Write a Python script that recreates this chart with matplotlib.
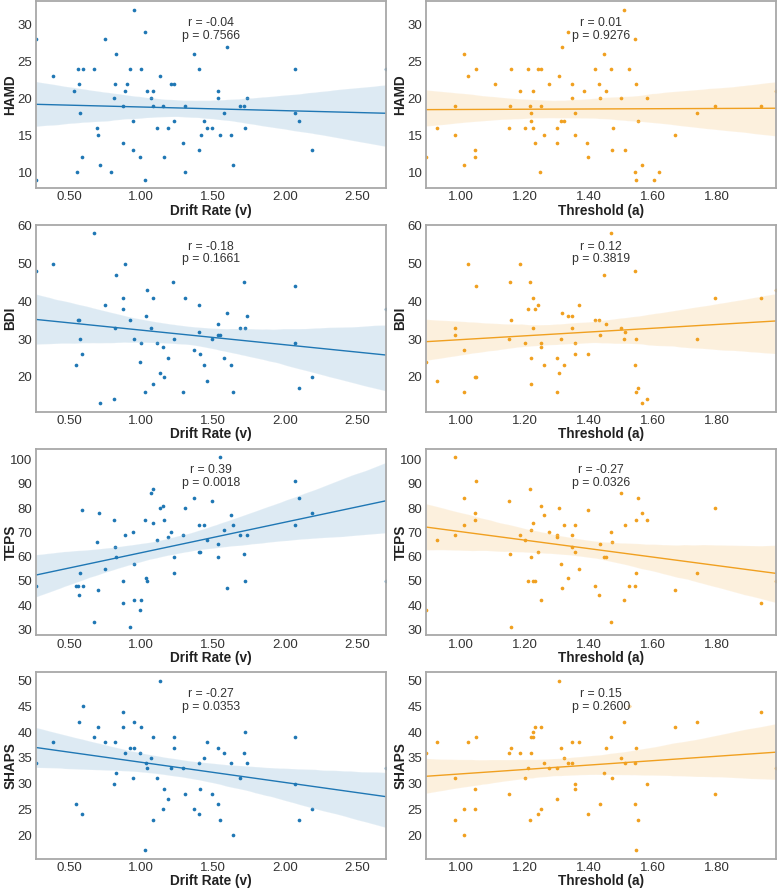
import numpy as np
import matplotlib
matplotlib.use("Agg")
import matplotlib.pyplot as plt
import seaborn as sns

# drift rate (v) vs scales
drift_hamd_x = [0.271, 0.271, 0.391, 0.532, 0.56, 0.572, 0.576, 0.553, 0.593, 0.6,
                0.676, 0.692, 0.701, 0.715, 0.75, 0.792, 0.81, 0.819, 0.829, 0.873,
                0.877, 0.887, 0.905, 0.926, 0.947, 0.947, 0.954, 0.993, 0.998, 1.03,
                1.03, 1.042, 1.072, 1.081, 1.086, 1.111, 1.132, 1.155, 1.16, 1.188,
                1.211, 1.229, 1.227, 1.289, 1.303, 1.308, 1.368, 1.40, 1.405, 1.414,
                1.44, 1.456, 1.493, 1.532, 1.532, 1.546, 1.579, 1.595, 1.623, 1.641,
                1.685, 1.715, 1.722, 1.736, 2.067, 2.067, 2.095, 2.188, 2.70]
drift_hamd_y = [28, 9, 23, 21, 24, 22, 18, 10, 12, 24,
                24, 16, 15, 11, 28, 10, 20, 22, 26, 19,
                14, 21, 22, 24, 17, 13, 32, 12, 24, 29,
                9, 21, 20, 21, 19, 16, 23, 19, 12, 16,
                22, 22, 17, 14, 10, 19, 26, 24, 13, 15,
                17, 16, 16, 21, 20, 15, 18, 27, 15, 11,
                19, 19, 16, 20, 24, 18, 17, 13, 24]

drift_bdi_x = [0.271, 0.391, 0.551, 0.56, 0.569, 0.576, 0.593, 0.676, 0.715, 0.752,
               0.81, 0.819, 0.829, 0.873, 0.877, 0.887, 0.926, 0.954, 0.993, 0.998,
               1.03, 1.032, 1.042, 1.072, 1.081, 1.081, 1.111, 1.132, 1.153, 1.16,
               1.188, 1.225, 1.229, 1.289, 1.308, 1.368, 1.40, 1.405, 1.412, 1.44,
               1.456, 1.493, 1.532, 1.532, 1.546, 1.579, 1.597, 1.623, 1.641, 1.685,
               1.715, 1.722, 1.736, 2.067, 2.067, 2.095, 2.188, 2.70]
drift_bdi_y = [48, 50, 23, 35, 35, 30, 26, 58, 13, 39,
               14, 33, 47, 41, 38, 50, 35, 30, 24, 29,
               16, 36, 43, 33, 41, 18, 29, 21, 28, 20,
               25, 45, 30, 16, 41, 27, 39, 32, 26, 23,
               19, 30, 34, 31, 31, 25, 37, 23, 16, 33,
               45, 33, 36, 44, 29, 17, 20, 38]

drift_teps_x = [0.271, 0.551, 0.56, 0.569, 0.574, 0.593, 0.6, 0.676, 0.692, 0.701,
                0.711, 0.752, 0.81, 0.819, 0.829, 0.873, 0.873, 0.887, 0.926, 0.947,
                0.954, 0.954, 0.993, 0.998, 1.03, 1.032, 1.042, 1.072, 1.081, 1.081,
                1.111, 1.132, 1.153, 1.16, 1.188, 1.211, 1.227, 1.229, 1.289, 1.308,
                1.368, 1.40, 1.405, 1.412, 1.44, 1.456, 1.493, 1.532, 1.532, 1.546,
                1.579, 1.595, 1.623, 1.641, 1.685, 1.715, 1.722, 1.736, 2.067, 2.067,
                2.095, 2.188, 2.70]
drift_teps_y = [48, 48, 48, 44, 53, 79, 48, 33, 66, 46,
                78, 55, 75, 64, 60, 50, 41, 69, 31, 70,
                57, 42, 38, 42, 75, 51, 50, 86, 88, 74,
                67, 80, 81, 75, 68, 70, 60, 53, 69, 80,
                84, 62, 73, 62, 73, 67, 83, 65, 60, 101,
                71, 47, 77, 73, 69, 61, 50, 69, 91, 73,
                84, 78, 50]

drift_shaps_x = [0.271, 0.391, 0.572, 0.6, 0.676, 0.701, 0.752, 0.819, 0.81, 0.829,
                 0.873, 0.877, 0.887, 0.926, 0.954, 0.954, 0.947, 0.998, 0.993, 1.032,
                 1.042, 1.072, 1.081, 1.111, 1.132, 1.16, 1.188, 1.211, 1.227, 1.229,
                 1.289, 1.308, 1.368, 1.40, 1.405, 1.412, 1.44, 1.456, 1.493, 1.532,
                 1.532, 1.546, 1.579, 1.623, 1.641, 1.685, 1.715, 1.722, 1.736, 2.067,
                 2.067, 2.095, 2.188, 2.70, 0.551, 0.593, 1.081, 1.03, 1.153]
drift_shaps_y = [34, 38, 42, 45, 39, 41, 38, 38, 30, 32,
                 44, 41, 36, 37, 37, 42, 31, 41, 36, 34,
                 33, 35, 39, 31, 50, 29, 27, 33, 39, 37,
                 33, 28, 25, 34, 24, 29, 35, 38, 28, 37,
                 26, 23, 36, 34, 20, 31, 36, 40, 34, 39,
                 30, 23, 25, 33, 26, 24, 23, 17, 25]

# threshold (a) vs scales
thr_hamd_x = [0.891, 0.925, 0.982, 0.983, 1.010, 1.010, 1.023, 1.043, 1.045, 1.048,
              1.107, 1.150, 1.154, 1.155, 1.183, 1.201, 1.208, 1.216, 1.218, 1.219,
              1.225, 1.225, 1.231, 1.240, 1.246, 1.250, 1.250, 1.258, 1.274, 1.300,
              1.301, 1.305, 1.311, 1.316, 1.321, 1.335, 1.346, 1.348, 1.355, 1.356,
              1.384, 1.394, 1.398, 1.417, 1.432, 1.433, 1.446, 1.454, 1.469, 1.472,
              1.474, 1.499, 1.509, 1.513, 1.524, 1.543, 1.543, 1.546, 1.547, 1.551,
              1.566, 1.581, 1.603, 1.617, 1.667, 1.738, 1.794, 1.937, 1.983]
thr_hamd_y = [12, 16, 15, 19, 26, 11, 23, 12, 13, 24,
              22, 16, 19, 24, 21, 16, 24, 19, 18, 17,
              21, 16, 14, 24, 10, 24, 19, 15, 22, 14,
              16, 23, 17, 27, 17, 29, 20, 22, 18, 15,
              21, 14, 12, 24, 22, 20, 26, 21, 24, 13,
              16, 20, 32, 13, 24, 28, 10, 9, 22, 17,
              11, 20, 9, 10, 15, 18, 19, 19, 21]

thr_bdi_x = [0.891, 0.926, 0.983, 0.983, 1.010, 1.010, 1.023, 1.043, 1.046, 1.048,
             1.150, 1.154, 1.155, 1.183, 1.201, 1.208, 1.216, 1.218, 1.219, 1.225,
             1.225, 1.231, 1.240, 1.250, 1.250, 1.258, 1.300, 1.300, 1.305, 1.311,
             1.316, 1.321, 1.335, 1.346, 1.348, 1.356, 1.356, 1.370, 1.398, 1.417,
             1.432, 1.433, 1.446, 1.454, 1.469, 1.499, 1.509, 1.513, 1.543, 1.543,
             1.546, 1.547, 1.551, 1.566, 1.581, 1.738, 1.794, 1.937, 1.983]
thr_bdi_y = [24, 19, 33, 31, 27, 16, 50, 20, 20, 44,
             30, 45, 35, 50, 29, 38, 45, 18, 25, 41,
             33, 38, 39, 29, 28, 23, 25, 16, 21, 30,
             37, 23, 36, 36, 33, 29, 26, 39, 26, 35,
             35, 31, 47, 34, 58, 33, 30, 32, 48, 23,
             30, 16, 17, 13, 14, 30, 41, 41, 43]

thr_teps_x = [0.891, 0.926, 0.982, 0.983, 1.010, 1.010, 1.043, 1.045, 1.048, 1.150,
              1.154, 1.183, 1.201, 1.208, 1.216, 1.218, 1.219, 1.225, 1.225, 1.231,
              1.240, 1.250, 1.250, 1.258, 1.274, 1.300, 1.301, 1.305, 1.311, 1.316,
              1.321, 1.335, 1.346, 1.348, 1.355, 1.356, 1.370, 1.398, 1.417, 1.432,
              1.433, 1.446, 1.454, 1.469, 1.472, 1.499, 1.509, 1.513, 1.524, 1.543,
              1.546, 1.547, 1.551, 1.566, 1.581, 1.667, 1.738, 1.794, 1.937, 1.983,
              1.155, 1.469]
thr_teps_y = [38, 67, 101, 69, 84, 73, 75, 78, 91, 83,
              61, 69, 67, 50, 88, 71, 60, 74, 50, 50,
              62, 81, 42, 77, 70, 69, 68, 80, 57, 47,
              73, 51, 69, 64, 62, 73, 55, 79, 48, 44,
              65, 60, 60, 70, 66, 86, 42, 73, 48, 48,
              75, 53, 84, 78, 75, 46, 53, 80, 41, 50,
              31, 33]

thr_shaps_x = [0.891, 0.926, 1.023, 1.048, 1.150, 1.155, 1.183, 1.208, 1.218, 1.219,
               1.225, 1.225, 1.231, 1.250, 1.258, 1.274, 1.300, 1.305, 1.311, 1.321,
               1.335, 1.346, 1.348, 1.370, 1.446, 1.454, 1.469, 1.499, 1.509, 1.513,
               1.543, 1.547, 1.667, 1.738, 1.937, 1.983, 1.524,
               0.983, 1.043, 1.151, 1.199, 1.355, 1.355, 1.472, 1.581, 1.794,
               1.301, 1.433, 1.543, 1.010, 1.045, 1.250, 1.240, 1.398, 0.982, 1.216,
               1.551, 1.010, 1.546]
thr_shaps_y = [36, 38, 38, 39, 36, 37, 36, 33, 36, 39,
               39, 40, 41, 41, 34, 33, 33, 50, 37, 35,
               34, 34, 38, 38, 32, 37, 39, 35, 42, 34,
               34, 37, 41, 42, 44, 33, 45,
               31, 29, 28, 31, 30, 29, 31, 30, 28,
               27, 26, 26, 25, 25, 25, 24, 24, 23, 23,
               23, 20, 17]

scales = ["HAMD", "BDI", "TEPS", "SHAPS"]
r_drift = ["-0.04", "-0.18", "0.39", "-0.27"]
p_drift = ["0.7566", "0.1661", "0.0018", "0.0353"]
r_thr = ["0.01", "0.12", "-0.27", "0.15"]
p_thr = ["0.9276", "0.3819", "0.0326", "0.2600"]

drift_data = [(drift_hamd_x, drift_hamd_y), (drift_bdi_x, drift_bdi_y),
              (drift_teps_x, drift_teps_y), (drift_shaps_x, drift_shaps_y)]
thr_data = [(thr_hamd_x, thr_hamd_y), (thr_bdi_x, thr_bdi_y),
            (thr_teps_x, thr_teps_y), (thr_shaps_x, thr_shaps_y)]

yticks = [[10, 15, 20, 25, 30], [20, 30, 40, 50, 60],
          [30, 40, 50, 60, 70, 80, 90, 100], [20, 25, 30, 35, 40, 45, 50]]

sns.set_style("white")
plt.rcParams['font.family'] = ['Liberation Sans', 'DejaVu Sans']

blue = "#1f77b4"
orange = "#f0a020"

fig, axes = plt.subplots(4, 2, figsize=(7.77, 8.88), dpi=100)
fig.subplots_adjust(left=0.0463, right=0.9987, top=0.9985, bottom=0.0327,
                    wspace=0.114, hspace=0.198)

cols = [(drift_data, blue, "Drift Rate (v)", r_drift, p_drift, [0.5, 1.0, 1.5, 2.0, 2.5]),
        (thr_data, orange, "Threshold (a)", r_thr, p_thr, [1.0, 1.2, 1.4, 1.6, 1.8])]

for j, (data, color, xlab, rs, ps, xt) in enumerate(cols):
    for i, (xs, ys) in enumerate(data):
        ax = axes[i, j]
        x = np.array(xs)
        y = np.array(ys)
        ax.set_xlim(x.min(), x.max())
        sns.regplot(x=x, y=y, ax=ax, color=color, truncate=False, seed=1,
                    scatter_kws={"s": 7, "linewidths": 0, "alpha": 1},
                    line_kws={"lw": 1.0})
        ax.set_xlim(x.min(), x.max())
        ax.set_xticks(xt)
        ax.set_xticklabels([f"{v:.2f}" for v in xt])
        ax.set_yticks(yticks[i])
        ax.set_xlabel(xlab, fontsize=9.8, fontweight="bold", color="#222222")
        ax.set_ylabel(scales[i], fontsize=9.8, fontweight="bold", color="#222222")
        ax.xaxis.set_label_coords(0.5, -0.083)
        ax.yaxis.set_label_coords(-0.053, 0.5)
        ax.tick_params(axis="both", length=0, pad=2.5, labelsize=9.5, labelcolor="#333333")
        for s in ax.spines.values():
            s.set_color("#a8a8a8")
            s.set_linewidth(1.3)
        ax.text(0.5, 0.85, f"r = {rs[i]}\np = {ps[i]}", transform=ax.transAxes,
                ha="center", va="center", fontsize=8.8, color="#333333",
                linespacing=1.05,
                bbox=dict(facecolor="white", edgecolor="none", alpha=0.6, pad=0.5))

fig.savefig("out.png", dpi=100)
